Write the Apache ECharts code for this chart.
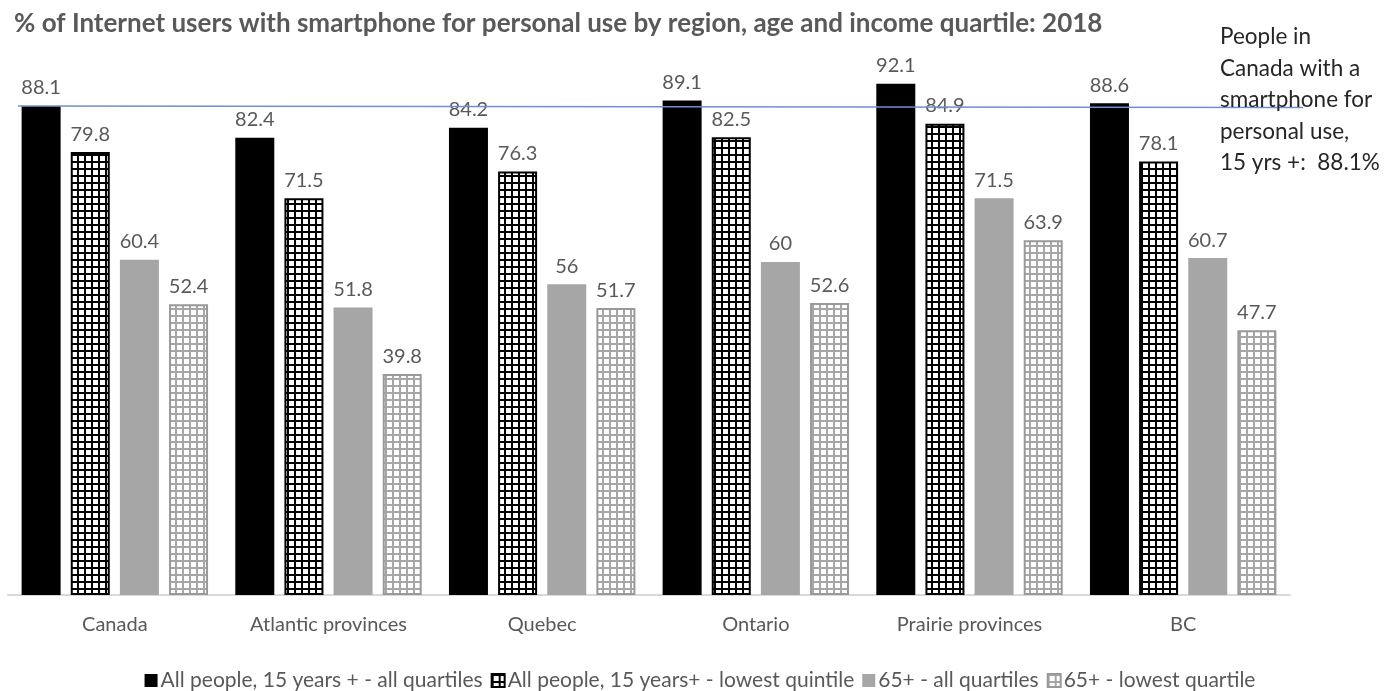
<!DOCTYPE html>
<html>
<head>
<meta charset="utf-8">
<script src="https://cdn.jsdelivr.net/npm/echarts@6/dist/echarts.min.js"></script>
<style>
html,body{margin:0;padding:0;background:#fff;}
#c{width:1400px;height:691px;}
</style>
</head>
<body>
<div id="c"></div>
<script>
const categories = ['Canada', 'Atlantic provinces', 'Quebec', 'Ontario', 'Prairie provinces', 'BC'];
const seriesNames = [
  'All people, 15 years + - all quartiles',
  'All people, 15 years+ - lowest quintile',
  '65+ - all quartiles',
  '65+ - lowest quartile'
];
const allPeopleAll = [88.1, 82.4, 84.2, 89.1, 92.1, 88.6];
const allPeopleLowest = [79.8, 71.5, 76.3, 82.5, 84.9, 78.1];
const seniorsAll = [60.4, 51.8, 56, 60, 71.5, 60.7];
const seniorsLowest = [52.4, 39.8, 51.7, 52.6, 63.9, 47.7];
const referenceValue = 88.1;
const titleText = '% of Internet users with smartphone for personal use by region, age and income quartile: 2018';
const noteLines = ['People in', 'Canada with a', 'smartphone for', 'personal use,', '15 yrs +:  88.1%'];

function makePattern(bg, line, size, lw) {
  const cv = document.createElement('canvas');
  cv.width = size; cv.height = size;
  const ctx = cv.getContext('2d');
  ctx.fillStyle = bg; ctx.fillRect(0, 0, size, size);
  ctx.fillStyle = line;
  ctx.fillRect(0, 0, lw, size);
  ctx.fillRect(0, 0, size, lw);
  return { image: cv, repeat: 'repeat' };
}
const darkGrid = makePattern('#ffffff', '#000000', 7, 2);
const lightGrid = makePattern('#ffffff', '#a6a6a6', 7, 2);

const FONT = 'Lato';
const TXT = '#595959';

const labelCfg = { show: true, position: 'top', distance: 8, color: TXT, fontSize: 20, fontFamily: FONT };

const styles = [
  { color: '#000000' },
  { color: darkGrid, borderColor: '#000000', borderWidth: 2 },
  { color: '#a6a6a6' },
  { color: lightGrid, borderColor: '#999999', borderWidth: 2 }
];
const dataSets = [allPeopleAll, allPeopleLowest, seniorsAll, seniorsLowest];

const chart = echarts.init(document.getElementById('c'), null, { renderer: 'canvas' });
const option = {
  animation: false,
  backgroundColor: '#ffffff',
  textStyle: { fontFamily: FONT },
  title: {
    text: titleText,
    left: 9, top: 6,
    textStyle: { color: TXT, fontSize: 26, fontWeight: 'bold', fontFamily: FONT }
  },
  legend: {
    top: 665, left: 'center',
    itemWidth: 13, itemHeight: 13, itemGap: 8,
    icon: 'rect',
    textStyle: { color: TXT, fontSize: 21, fontFamily: FONT, padding: [0, 0, 0, -2] },
    data: seriesNames
  },
  grid: { left: 8, right: 110, top: 40, bottom: 96, containLabel: false },
  xAxis: {
    type: 'category',
    data: categories,
    axisLine: { lineStyle: { color: '#d9d9d9', width: 2 } },
    axisTick: { show: false },
    axisLabel: { color: TXT, fontSize: 20, fontFamily: FONT, margin: 20 }
  },
  yAxis: {
    type: 'value', min: 0, max: 100,
    show: false,
    splitLine: { show: false }
  },
  series: seriesNames.map((n, i) => ({
    name: n,
    type: 'bar',
    data: dataSets[i],
    barWidth: 39,
    barGap: '26%',
    itemStyle: styles[i],
    label: labelCfg
  }))
};
chart.setOption(option);

const yRef = chart.convertToPixel({ yAxisIndex: 0 }, referenceValue);
chart.setOption({
  graphic: [
    {
      type: 'line', z: 100,
      shape: { x1: 18, y1: yRef, x2: 1303, y2: yRef + 1.5 },
      style: { stroke: '#6f8fcf', lineWidth: 1.5 }
    },
    {
      type: 'text', left: 1220, top: 21, z: 110,
      style: {
        text: noteLines.join('\n'),
        fill: '#262626', fontSize: 22.5, fontFamily: FONT, lineHeight: 31.5
      }
    }
  ]
});
</script>
</body>
</html>
